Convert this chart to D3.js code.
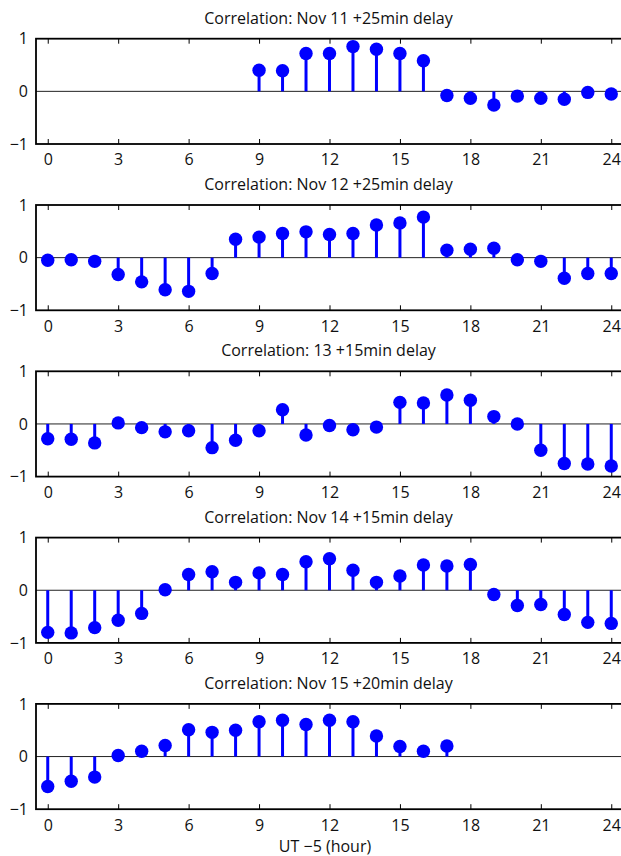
<!DOCTYPE html>
<html>
<head>
<meta charset="utf-8">
<script src="https://cdn.jsdelivr.net/npm/d3@7"></script>
<style>
  html, body { margin: 0; padding: 0; background: #fff; }
  svg { display: block; }
  text { font-family: "Open Sans", "Noto Sans", sans-serif; fill: #111; }
</style>
</head>
<body>
<script>
// ---- data ----
const hours = [0,1,2,3,4,5,6,7,8,9,10,11,12,13,14,15,16,17,18,19,20,21,22,23,24];
const xTicks = [0,3,6,9,12,15,18,21,24];
const yTicks = [-1,0,1];
const titles = [
  "Correlation: Nov 11 +25min delay",
  "Correlation: Nov 12 +25min delay",
  "Correlation: 13 +15min delay",
  "Correlation: Nov 14 +15min delay",
  "Correlation: Nov 15 +20min delay"
];
const nov11 = [null,null,null,null,null,null,null,null,null,0.40,0.39,0.72,0.72,0.85,0.80,0.72,0.58,-0.08,-0.13,-0.26,-0.09,-0.13,-0.15,-0.02,-0.05];
const nov12 = [-0.05,-0.04,-0.07,-0.32,-0.46,-0.61,-0.64,-0.30,0.35,0.39,0.46,0.49,0.44,0.46,0.62,0.66,0.77,0.14,0.16,0.18,-0.04,-0.07,-0.39,-0.30,-0.30];
const nov13 = [-0.28,-0.29,-0.36,0.02,-0.07,-0.15,-0.13,-0.45,-0.31,-0.13,0.27,-0.21,-0.03,-0.11,-0.06,0.41,0.40,0.55,0.45,0.14,0.00,-0.50,-0.75,-0.76,-0.80];
const nov14 = [-0.80,-0.81,-0.71,-0.57,-0.44,0.01,0.30,0.35,0.15,0.33,0.30,0.54,0.60,0.38,0.15,0.27,0.48,0.46,0.49,-0.08,-0.29,-0.27,-0.46,-0.61,-0.63];
const nov15 = [-0.57,-0.47,-0.39,0.02,0.10,0.21,0.51,0.46,0.50,0.66,0.69,0.61,0.69,0.66,0.39,0.19,0.10,0.20,null,null,null,null,null,null,null];
const xLabel = "UT \u22125 (hour)";
const seriesList = [nov11, nov12, nov13, nov14, nov15];

// ---- layout ----
const W = 621, H = 856;
const left = 36, right = 623;
const firstTop = 38.7, panelStep = 166.3, panelH = 105.3;
const blue = "#0000ff";
const FONT = "'Open Sans', 'Noto Sans', sans-serif";

const svg = d3.select("body").append("svg").attr("width", W).attr("height", H);
const x = d3.scaleLinear().domain([-0.5, 24.5]).range([left, right]);

seriesList.forEach((vals, i) => {
  const top = firstTop + i * panelStep;
  const y = d3.scaleLinear().domain([-1, 1]).range([top + panelH, top]);
  const g = svg.append("g");
  const data = hours.map((h, k) => ({h, v: vals[k]})).filter(d => d.v !== null);

  // title
  g.append("text")
    .attr("x", (left + right) / 2 - 1)
    .attr("y", top - 15)
    .attr("text-anchor", "middle")
    .style("font-size", "16px")
    .text(titles[i]);

  // zero baseline
  g.append("line")
    .attr("x1", left).attr("x2", right)
    .attr("y1", y(0)).attr("y2", y(0))
    .attr("stroke", "#222").attr("stroke-width", 1);

  // bottom axis (ticks inward + labels)
  const ax = g.append("g").attr("transform", `translate(0,${y(-1)})`)
    .call(d3.axisBottom(x).tickValues(xTicks).tickSizeInner(-5).tickSizeOuter(0).tickPadding(10).tickFormat(d3.format("d")));
  ax.select(".domain").remove();
  ax.selectAll("line").attr("stroke", "#000").attr("stroke-width", 1);
  ax.selectAll("text").style("font-size", "16px").style("font-family", FONT).attr("fill", "#111");

  // top axis ticks inward
  const axT = g.append("g").attr("transform", `translate(0,${y(1)})`)
    .call(d3.axisTop(x).tickValues(xTicks).tickSizeInner(-5).tickSizeOuter(0).tickFormat(""));
  axT.select(".domain").remove();
  axT.selectAll("line").attr("stroke", "#000");

  // left axis labels
  const ay = g.append("g").attr("transform", `translate(${left},0)`)
    .call(d3.axisLeft(y).tickValues(yTicks).tickSize(0).tickPadding(8).tickFormat(d3.format("d")));
  ay.select(".domain").remove();
  ay.selectAll("text").style("font-size", "16px").style("font-family", FONT).attr("fill", "#111");

  // box
  g.append("rect")
    .attr("x", left).attr("y", y(1))
    .attr("width", right - left).attr("height", y(-1) - y(1))
    .attr("fill", "none").attr("stroke", "#000").attr("stroke-width", 1.8);

  // stems
  g.selectAll(".stem").data(data).enter().append("line")
    .attr("x1", d => x(d.h)).attr("x2", d => x(d.h))
    .attr("y1", y(0)).attr("y2", d => y(d.v))
    .attr("stroke", blue).attr("stroke-width", 3);

  // markers
  g.selectAll(".mk").data(data).enter().append("circle")
    .attr("cx", d => x(d.h)).attr("cy", d => y(d.v))
    .attr("r", 6.7).attr("fill", blue);
});

// x label
svg.append("text")
  .attr("x", 325).attr("y", 852)
  .attr("text-anchor", "middle")
  .style("font-size", "16px")
  .text(xLabel);
</script>
</body>
</html>
